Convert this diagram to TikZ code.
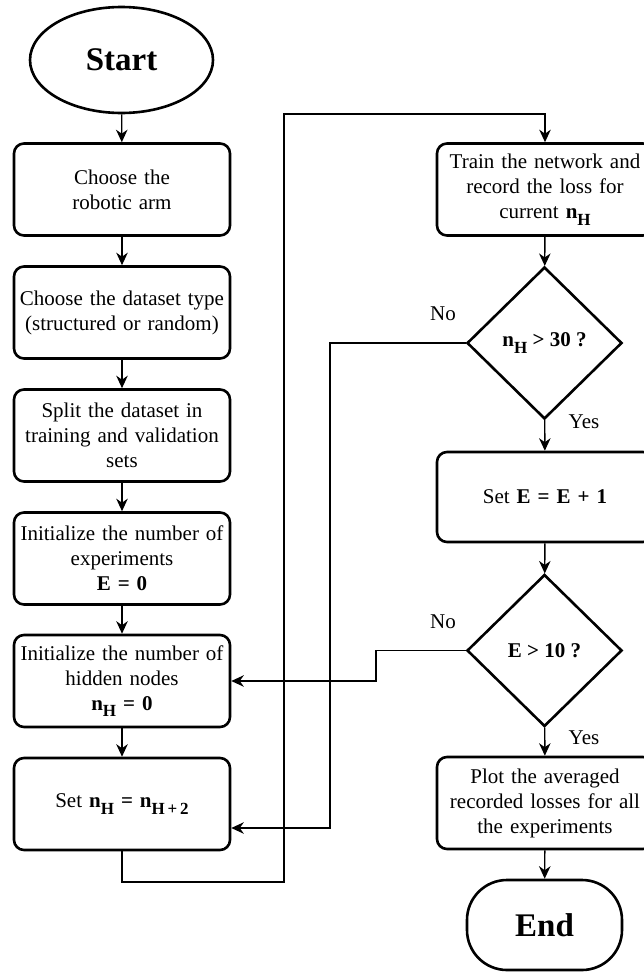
\documentclass[tikz,border=0pt]{standalone}
\usepackage{fontspec}
\setmainfont{Liberation Serif}
\usetikzlibrary{arrows.meta,shapes.geometric,calc}

% bold, lowered subscript as used for n_H
\newcommand{\lowsub}[1]{\raisebox{-0.32em}{\fontsize{17}{17}\selectfont\textbf{#1}}}
\newcommand{\nH}{\textbf{n}\lowsub{H}}

\begin{document}
\begin{tikzpicture}[x=1pt,y=-1pt,
  txt/.style={font=\fontsize{21}{25}\selectfont},
  stepbox/.style={txt, draw, line width=2.6pt, rounded corners=10pt,
    minimum width=216pt, minimum height=92pt, text width=212pt,
    align=center, inner sep=0pt},
  decision/.style={txt, draw, diamond, line width=2.6pt,
    minimum width=155pt, minimum height=152pt, inner sep=0pt, align=center},
  terminal/.style={draw, line width=2.6pt, font=\fontsize{33}{36}\selectfont\bfseries},
  arr/.style={line width=1.4pt, -{Stealth[length=12.5pt,width=11.5pt,inset=4pt]}},
  lbl/.style={txt, inner sep=0pt}
]
\useasboundingbox (0,0) rectangle (644,972);

% left column
\node[terminal, ellipse, minimum width=183pt, minimum height=106pt] (start) at (121.5,60) {Start};
\node[stepbox] (b1) at (122,189.5) {Choose the\\robotic arm};
\node[stepbox] (b2) at (122,312.5) {Choose the dataset type\\(structured or random)};
\node[stepbox] (b3) at (122,435.5) {Split the dataset in\\training and validation\\sets};
\node[stepbox] (b4) at (122,558.5) {Initialize the number of\\experiments\\\textbf{E = 0}};
\node[stepbox] (b5) at (122,681) {Initialize the number of\\hidden nodes\\\nH{} \textbf{= 0}};
\node[stepbox] (b6) at (122,804) {Set \nH{} \textbf{=} \textbf{n}\lowsub{H\,+\,2}};

% right column
\node[stepbox] (train) at (545,189.5) {Train the network and\\record the loss for\\current \nH};
\node[decision] (d1) at (544.5,343) {\nH{} \textbf{> 30 ?}};
\node[stepbox, minimum height=90pt] (setE) at (545,497) {Set \textbf{E = E + 1}};
\node[decision] (d2) at (544.5,650.5) {\textbf{E > 10 ?}};
\node[stepbox] (plot) at (545,803) {Plot the averaged\\recorded losses for all\\the experiments};
\node[terminal, rectangle, rounded corners=40pt, minimum width=155pt, minimum height=90pt] (finish) at (544.5,925) {End};

% straight flow
\draw[arr] (start) -- (b1);
\draw[arr] (b1) -- (b2);
\draw[arr] (b2) -- (b3);
\draw[arr] (b3) -- (b4);
\draw[arr] (b4) -- (b5);
\draw[arr] (b5) -- (b6);
\draw[arr] (train) -- (d1);
\draw[arr] (d1) -- (setE);
\draw[arr] (setE) -- (d2);
\draw[arr] (d2) -- (plot);
\draw[arr] (plot) -- (finish);

% loop from the increment step up to training
\coordinate (loopA) at (284,882);
\coordinate (loopB) at (284,114);
\draw[arr] (b6.south) |- (loopA) -- (loopB) -| (train.north);

% "No" branch of the node-count test
\coordinate (noA) at (330,343);
\draw[arr] (d1.west) -- (noA) |- ($(b6.east)+(0,24)$);

% "No" branch of the experiment-count test
\coordinate (noB) at (376,681);
\draw[arr] (d2.west) -| (noB) -- (b5.east);

% branch labels
\node[lbl] (no1) at (443,314) {No};
\node[lbl] (yes1) at (584,422) {Yes};
\node[lbl] (no2) at (443,622) {No};
\node[lbl] (yes2) at (584,738) {Yes};
\end{tikzpicture}
\end{document}
